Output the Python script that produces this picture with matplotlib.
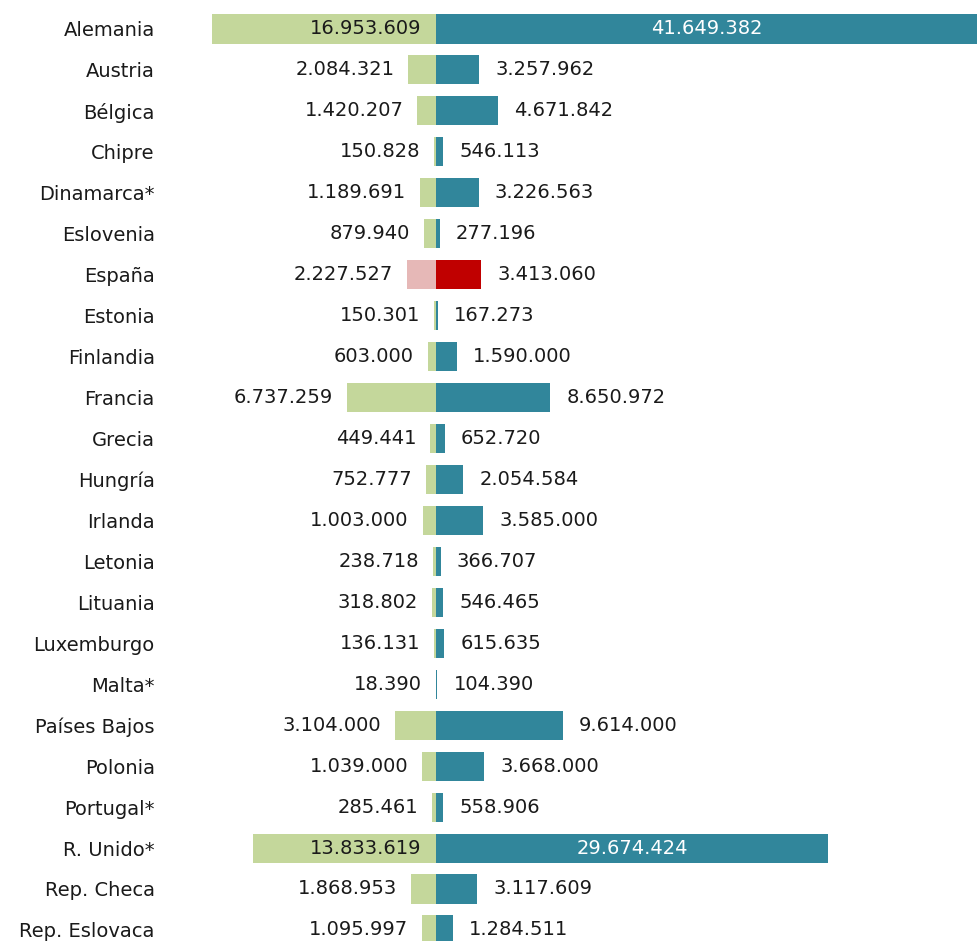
import numpy as np
import matplotlib.pyplot as plt

paises = ['Alemania', 'Austria', 'Bélgica', 'Chipre', 'Dinamarca*', 'Eslovenia',
          'España', 'Estonia', 'Finlandia', 'Francia', 'Grecia', 'Hungría',
          'Irlanda', 'Letonia', 'Lituania', 'Luxemburgo', 'Malta*', 'Países Bajos',
          'Polonia', 'Portugal*', 'R. Unido*', 'Rep. Checa', 'Rep. Eslovaca']
izquierda = [16953609, 2084321, 1420207, 150828, 1189691, 879940,
             2227527, 150301, 603000, 6737259, 449441, 752777,
             1003000, 238718, 318802, 136131, 18390, 3104000,
             1039000, 285461, 13833619, 1868953, 1095997]
derecha = [41649382, 3257962, 4671842, 546113, 3226563, 277196,
           3413060, 167273, 1590000, 8650972, 652720, 2054584,
           3585000, 366707, 546465, 615635, 104390, 9614000,
           3668000, 558906, 29674424, 3117609, 1284511]
# rows with the labels written inside the bars
dentro = ['Alemania', 'R. Unido*']
destacado = 'España'

def fmt(v):
    return f'{v:,}'.replace(',', '.')

verde, azul = '#C4D79B', '#31869B'
rosa, rojo = '#E6B8B7', '#C00000'
txt = '#1a1a1a'

fig = plt.figure(figsize=(9.77, 9.41), dpi=100)
ax = fig.add_axes([170/977, 0, 807/977, 1])

y = np.arange(len(paises))
izq = np.array(izquierda)
der = np.array(derecha)
col_izq = [rosa if p == destacado else verde for p in paises]
col_der = [rojo if p == destacado else azul for p in paises]

ax.barh(y, -izq, height=0.71, color=col_izq, linewidth=0)
ax.barh(y, der, height=0.71, color=col_der, linewidth=0)

xmin, xmax = -20.15e6, 40.98e6
ax.set_xlim(xmin, xmax)
ax.set_ylim(22.27, -0.708)

for i, p in enumerate(paises):
    if p in dentro:
        ax.annotate(fmt(izq[i]), (0, i), xytext=(-15, 0), textcoords='offset pixels',
                    ha='right', va='center', fontsize=14, color=txt)
        ax.text(min(der[i], xmax) / 2, i, fmt(der[i]), ha='center', va='center',
                fontsize=14, color='white')
    else:
        ax.annotate(fmt(izq[i]), (-izq[i], i), xytext=(-14, 0), textcoords='offset pixels',
                    ha='right', va='center', fontsize=14, color=txt)
        ax.annotate(fmt(der[i]), (der[i], i), xytext=(16, 0), textcoords='offset pixels',
                    ha='left', va='center', fontsize=14, color=txt)

ax.set_yticks(y)
ax.set_yticklabels(paises, fontsize=14, color=txt)
ax.tick_params(axis='y', length=0, pad=11)
ax.set_xticks([])
for s in ax.spines.values():
    s.set_visible(False)

plt.savefig('out.png', dpi=100)
